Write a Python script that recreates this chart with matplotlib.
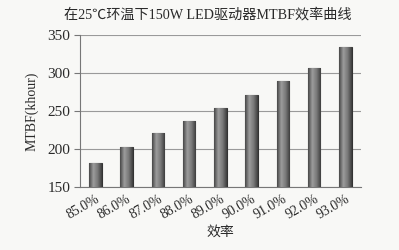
import matplotlib.pyplot as plt
import numpy as np
from matplotlib.colors import LinearSegmentedColormap

# efficiency categories and MTBF values (khour)
labels = ['85.0%', '86.0%', '87.0%', '88.0%', '89.0%', '90.0%', '91.0%', '92.0%', '93.0%']
mtbf = [181, 202, 221, 237, 254, 271, 289, 307, 334]
yticks = [150, 200, 250, 300, 350]

fonts = ['Liberation Serif', 'Noto Sans CJK SC', 'DejaVu Sans']
plt.rcParams['font.family'] = fonts
txt = '#2a2a2a'

fig = plt.figure(figsize=(3.99, 2.5), dpi=100)
fig.patch.set_facecolor('#f8f8f6')
ax = fig.add_axes([0.2, 0.252, 0.705, 0.608])
ax.set_facecolor('#f8f8f6')

x = np.arange(len(labels))
bars = ax.bar(x, np.array(mtbf) - 150, bottom=150, width=0.4,
              color='#7a7a7a', edgecolor='#333333', linewidth=0.8, zorder=3)

# cylinder shading inside each bar
cmap = LinearSegmentedColormap.from_list('cyl', ['#474747', '#9c9c9c', '#7a7a7a', '#3e3e3e'])
grad = np.linspace(0, 1, 64).reshape(1, -1)
for b in bars:
    x0, w, h = b.get_x(), b.get_width(), b.get_height()
    im = ax.imshow(grad, extent=[x0, x0 + w, 150, 150 + h], aspect='auto',
                   cmap=cmap, zorder=3.5)
    im.set_clip_path(b)

ax.set_xlim(-0.5, len(labels) - 0.5)
ax.set_ylim(150, 350)
ax.set_yticks(yticks)
ax.yaxis.grid(True, color='#9a9a9a', linewidth=0.8, zorder=0)
ax.set_axisbelow(True)

for s in ['top', 'right']:
    ax.spines[s].set_visible(False)
ax.spines['left'].set_color('#777777')
ax.spines['bottom'].set_color('#777777')

ax.set_xticks(x)
ax.set_xticklabels(labels, rotation=30, ha='right', rotation_mode='anchor',
                   fontsize=10, color=txt)
ax.tick_params(axis='x', length=0, pad=4)
ax.tick_params(axis='y', labelsize=11, colors=txt, length=4, color='#777777', pad=3)

ax.set_ylabel('MTBF(khour)', fontsize=10, color=txt, labelpad=6)
ax.set_xlabel('效率', fontsize=10, color=txt, labelpad=3)
fig.text(0.52, 0.942, '在25℃环温下150W LED驱动器MTBF效率曲线',
         ha='center', va='center', fontsize=10.2, color=txt)

fig.savefig('out.png', dpi=100, facecolor=fig.get_facecolor())
